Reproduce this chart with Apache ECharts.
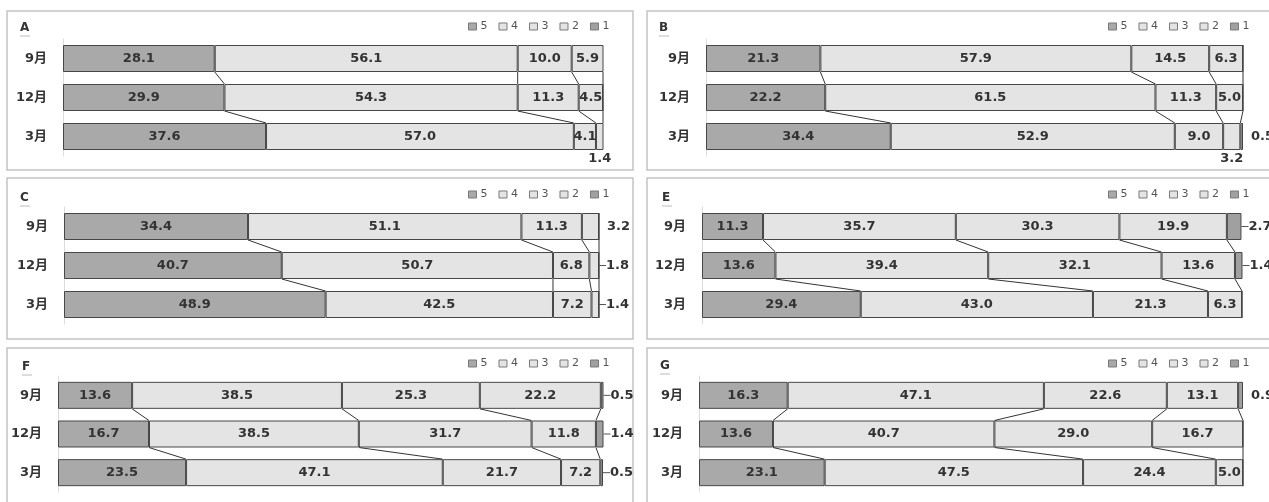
<!DOCTYPE html>
<html><head><meta charset="utf-8">
<script src="https://cdn.jsdelivr.net/npm/echarts@6/dist/echarts.min.js"></script>
<style>html,body{margin:0;padding:0;background:#fff}#c{width:1269px;height:502px}</style>
</head><body><div id="c"></div>
<script>
// ---- data ----
const categories = ['9月', '12月', '3月'];
const levels = ['5', '4', '3', '2', '1'];
const panelNames = ['A', 'B', 'C', 'E', 'F', 'G'];
// rows: 9月, 12月, 3月 ; columns: levels 5,4,3,2,1
const dataA = [[28.1, 56.1, 10.0, 5.9, 0], [29.9, 54.3, 11.3, 4.5, 0], [37.6, 57.0, 4.1, 1.4, 0]];
const dataB = [[21.3, 57.9, 14.5, 6.3, 0], [22.2, 61.5, 11.3, 5.0, 0], [34.4, 52.9, 9.0, 3.2, 0.5]];
const dataC = [[34.4, 51.1, 11.3, 3.2, 0], [40.7, 50.7, 6.8, 1.8, 0], [48.9, 42.5, 7.2, 1.4, 0]];
const dataE = [[11.3, 35.7, 30.3, 19.9, 2.7], [13.6, 39.4, 32.1, 13.6, 1.4], [29.4, 43.0, 21.3, 6.3, 0]];
const dataF = [[13.6, 38.5, 25.3, 22.2, 0.5], [16.7, 38.5, 31.7, 11.8, 1.4], [23.5, 47.1, 21.7, 7.2, 0.5]];
const dataG = [[16.3, 47.1, 22.6, 13.1, 0.9], [13.6, 40.7, 29.0, 16.7, 0], [23.1, 47.5, 24.4, 5.0, 0]];
const panelData = [dataA, dataB, dataC, dataE, dataF, dataG];

// ---- layout (positions / styles) ----
const layout = [
  {grid: {left: 63, width: 540, top: 39, height: 117}, box: [7, 11, 626, 159], title: [20, 28], legend: [468, 21]},
  {grid: {left: 706, width: 537, top: 39, height: 117}, box: [647, 11, 640, 159], title: [659, 28], legend: [1108, 21]},
  {grid: {left: 64, width: 535, top: 207, height: 117}, box: [7, 178, 626, 161], title: [20, 198], legend: [468, 189]},
  {grid: {left: 702, width: 540, top: 207, height: 117}, box: [647, 178, 640, 161], title: [662, 198], legend: [1108, 189]},
  {grid: {left: 58, width: 545, top: 376, height: 116}, box: [7, 348, 626, 160], title: [22, 367], legend: [468, 358]},
  {grid: {left: 699, width: 544, top: 376, height: 116}, box: [647, 348, 640, 160], title: [660, 366], legend: [1108, 358]}
];
// outside label placement: [rowIndex, levelIndex, mode]
const outsidePlacement = [
  [[2, 3, 'bottom']],
  [[2, 3, 'bottom'], [2, 4, 'right']],
  [[0, 3, 'right'], [1, 3, 'lead'], [2, 3, 'lead']],
  [[0, 4, 'lead'], [1, 4, 'lead']],
  [[0, 4, 'lead'], [1, 4, 'lead'], [2, 4, 'lead']],
  [[0, 4, 'right']]
];

const FONT = "'DejaVu Sans','Noto Sans CJK JP',sans-serif";
const DARK = '#a9a9a9', LIGHT = '#e4e4e4';
const colors = [DARK, LIGHT, LIGHT, LIGHT, '#a0a0a0'];
const BAR_W = 27;

const chart = echarts.init(document.getElementById('c'), null, {renderer: 'canvas'});

const grid = [], xAxis = [], yAxis = [], series = [], legend = [], graphic = [];

panelData.forEach((rows, p) => {
  const L = layout[p];
  grid.push(Object.assign({containLabel: false}, L.grid));
  xAxis.push({type: 'value', gridIndex: p, min: 0, max: 100, show: false});
  yAxis.push({
    type: 'category', gridIndex: p, data: categories, inverse: true,
    axisLine: {show: true, lineStyle: {color: '#dcdcdc', width: 1}},
    axisTick: {show: false},
    axisLabel: {margin: 16, fontFamily: FONT, fontSize: 13, fontWeight: 'bold', color: '#333'}
  });
  legend.push({
    left: L.legend[0], top: L.legend[1], itemWidth: 8, itemHeight: 7, itemGap: 11,
    padding: 0, selectedMode: false, icon: 'rect', data: levels,
    itemStyle: {borderColor: '#7a7a7a', borderWidth: 1},
    textStyle: {fontFamily: FONT, fontSize: 11, color: '#555', padding: [0, 0, 0, -1]}
  });
  levels.forEach((lv, k) => {
    const data = rows.map((r, i) => {
      const v = r[k];
      const place = outsidePlacement[p].find(o => o[0] === i && o[1] === k);
      const item = {value: v};
      if (place) {
        if (place[2] === 'bottom') {
          item.label = {show: true, position: 'bottom', distance: 2, formatter: v.toFixed(1)};
        } else if (place[2] === 'right') {
          item.label = {show: true, position: 'right', distance: 8, formatter: v.toFixed(1)};
        } else {
          item.label = {show: true, position: 'right', distance: 0,
            formatter: '{l|}{v|' + v.toFixed(1) + '}',
            rich: {l: {width: 7, height: 1, backgroundColor: '#555'}, v: {fontFamily: FONT, fontSize: 13, fontWeight: 'bold', color: '#333'}}};
        }
      } else {
        item.label = {show: v >= 4, position: 'inside', formatter: v.toFixed(1)};
      }
      return item;
    });
    series.push({
      type: 'bar', name: lv, stack: 'p' + p, xAxisIndex: p, yAxisIndex: p,
      barWidth: BAR_W, data: data, animation: false,
      itemStyle: {color: colors[k], borderColor: '#474747', borderWidth: 1},
      label: {fontFamily: FONT, fontSize: 13, fontWeight: 'bold', color: '#333'},
      emphasis: {disabled: true}
    });
  });
  // series lines connecting cumulative boundaries between consecutive bars
  const cums = rows.map(r => { let s = 0; return r.map(v => (s += v)); });
  const lines = [];
  for (let k = 0; k < 4; k++) {
    for (let i = 0; i < rows.length - 1; i++) {
      lines.push([i, Math.min(cums[i][k], 100), Math.min(cums[i + 1][k], 100)]);
    }
  }
  series.push({
    type: 'custom', xAxisIndex: p, yAxisIndex: p, silent: true, animation: false, z: 3,
    encode: {y: 0, x: 1},
    data: lines,
    renderItem: (params, api) => {
      const i = api.value(0);
      const a = api.coord([api.value(1), i]);
      const b = api.coord([api.value(2), i + 1]);
      return {type: 'line', shape: {x1: a[0], y1: a[1] + BAR_W / 2, x2: b[0], y2: b[1] - BAR_W / 2},
        style: {stroke: '#333', lineWidth: 1}};
    }
  });
  // panel frame and title
  graphic.push({type: 'rect', silent: true, z: -10,
    shape: {x: L.box[0], y: L.box[1], width: L.box[2], height: L.box[3]},
    style: {fill: 'none', stroke: '#c4c4c4', lineWidth: 1.5}});
  graphic.push({type: 'text', silent: true, x: L.title[0], y: L.title[1],
    style: {text: panelNames[p], font: 'bold 12px ' + FONT, fill: '#333', verticalAlign: 'middle'}});
  graphic.push({type: 'line', silent: true,
    shape: {x1: L.title[0], y1: L.title[1] + 8, x2: L.title[0] + 10, y2: L.title[1] + 8},
    style: {stroke: '#bbb', lineWidth: 1}});
});

chart.setOption({animation: false, grid, xAxis, yAxis, series, legend, graphic});
</script></body></html>
